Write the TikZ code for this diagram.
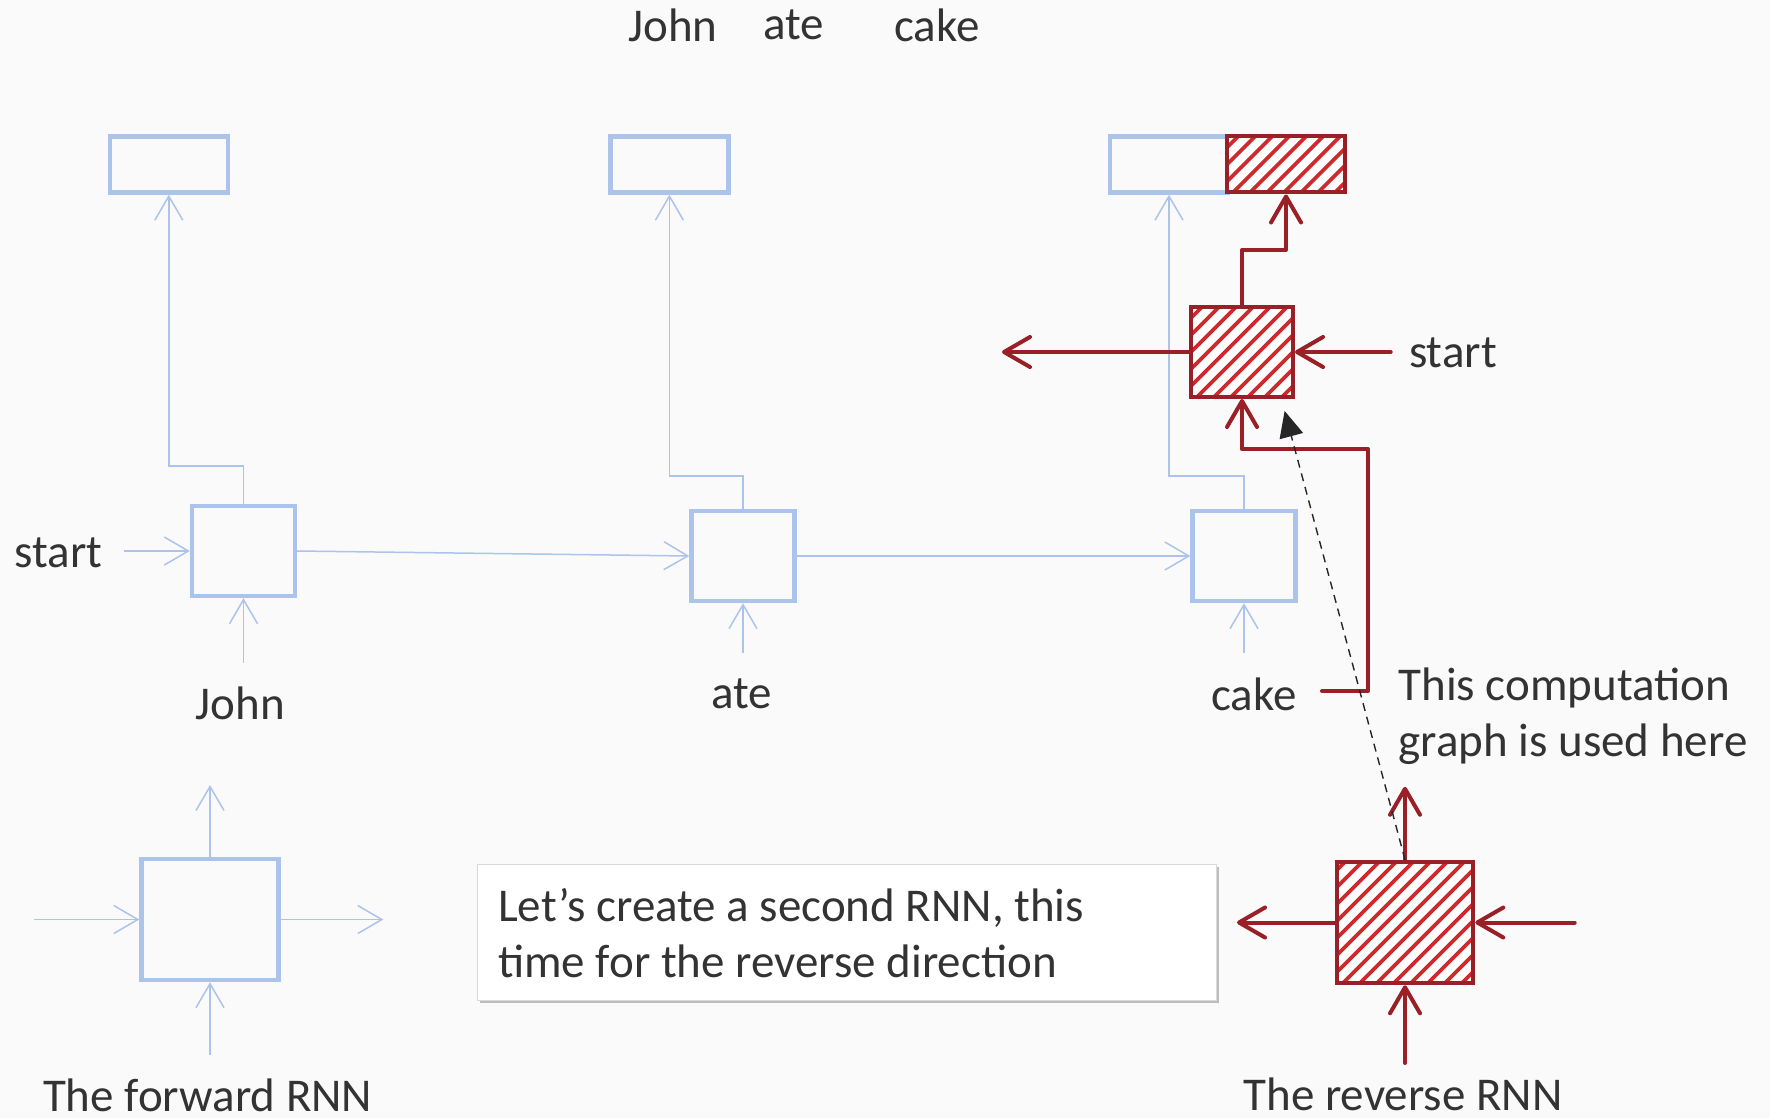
\documentclass[tikz,border=0pt]{standalone}
\usepackage{fontspec}
\setmainfont{Carlito}
\usetikzlibrary{arrows.meta,shadows}
\definecolor{bl}{RGB}{172,196,236}
\definecolor{rd}{RGB}{152,32,38}
\definecolor{hr}{RGB}{206,42,46}
\definecolor{txt}{RGB}{51,51,51}
\definecolor{bg}{RGB}{250,250,250}
\begin{document}
\begin{tikzpicture}[x=0.5pt,y=-0.5pt,
  every node/.style={font=\fontsize{23.5}{27.8}\selectfont, text=txt},
  bluebox/.style={draw=bl, line width=2.2pt, inner sep=0pt},
  hatchbox/.style={draw=rd, line width=2pt, inner sep=0pt, fill=white,
    path picture={\foreach \i in {-300,-283,...,300}
      \draw[hr, line width=1.8pt] ([xshift=\i*0.5pt]path picture bounding box.south west) -- ++(320,-320);}},
  barrow/.style={draw=bl, line width=0.75pt, -{Straight Barb[length=12pt,width=14pt]}},
  rarrow/.style={draw=rd, line width=2pt, line cap=round, line join=round,
    -{Straight Barb[length=13pt,width=15pt,round]}}]
\fill[bg] (0,0) rectangle (1770,1118);
\useasboundingbox (0,0) rectangle (1770,1118);

% top words
\node (wJ) at (673,25) {John};
\node (wA) at (793.5,25) {ate};
\node (wC) at (937,25) {cake};

% output boxes
\node[bluebox, minimum width=59pt, minimum height=28pt] (o1) at (168.8,164.5) {};
\node[bluebox, minimum width=59pt, minimum height=28pt] (o2) at (669.4,164.5) {};
\node[bluebox, minimum width=59pt, minimum height=28pt] (o3) at (1169,164.5) {};

% forward cells
\node[bluebox, minimum width=51.5pt, minimum height=45pt] (c1) at (243.5,551) {};
\node[bluebox, minimum width=51.5pt, minimum height=45pt] (c2) at (743,556) {};
\node[bluebox, minimum width=51.5pt, minimum height=45pt] (c3) at (1244,556) {};

% labels
\node (lstart) at (58.7,553) {start};
\node (lJ) at (240.4,703) {John};
\node (lA) at (741.6,694) {ate};
\node (lC) at (1254,694) {cake};

% blue connectors
\coordinate (k1) at (168.8,466);
\coordinate (k2) at (669.4,476);
\coordinate (k3) at (1169,476);
\draw[barrow] (c1.north) |- (k1) -- (o1.south);
\draw[barrow] (c2.north) |- (k2) -- (o2.south);
\draw[barrow] (c3.north) |- (k3) -- (o3.south);
\coordinate (s1) at (124,551);
\draw[barrow] (s1) -- (c1.west);
\draw[barrow] (c1.east) -- (c2.west);
\draw[barrow] (c2.east) -- (c3.west);
\coordinate (i1) at (243.5,662.6);
\coordinate (i2) at (743,652.5);
\coordinate (i3) at (1244,652.5);
\draw[barrow] (i1) -- (c1.south);
\draw[barrow] (i2) -- (c2.south);
\draw[barrow] (i3) -- (c3.south);

% red output and red cell
\node[hatchbox, minimum width=59pt, minimum height=28pt] (o3r) at (1286,164.5) {};
\node[hatchbox, minimum width=51pt, minimum height=45pt] (r) at (1242,352) {};
\coordinate (rk) at (1286,250);
\draw[rarrow] (r.north) |- (rk) -- (o3r.south);
\coordinate (rl) at (1002,352);
\draw[rarrow] (r.west) -- (rl);
\coordinate (rs) at (1390.7,352);
\draw[rarrow] (rs) -- (r.east);
\node[anchor=west] (rstart) at (1402,353) {start};
\coordinate (ck) at (1322,691);
\coordinate (kc) at (1368,449.3);
\draw[rarrow] (ck) -| (kc) -| (r.south);

\node[anchor=west, align=left] (note) at (1391.5,716) {This computation\\graph is used here};

% forward RNN legend
\node[bluebox, minimum width=68.5pt, minimum height=60.5pt] (fw) at (210,919.5) {};
\coordinate (fu) at (210,785);
\coordinate (fl) at (34,919.5);
\coordinate (fr) at (383.3,919.5);
\coordinate (fb) at (210,1055);
\draw[barrow] (fw.north) -- (fu);
\draw[barrow] (fl) -- (fw.west);
\draw[barrow] (fw.east) -- (fr);
\draw[barrow] (fb) -- (fw.south);
\node[anchor=base] (lfw) at (207.7,1111.7) {The forward RNN};

% callout
\node[draw=black!15, line width=0.6pt, fill=white, minimum width=369.5pt,
  minimum height=67.7pt,
  drop shadow={shadow xshift=1.2pt, shadow yshift=-1.2pt, opacity=0.35, fill=black!70}]
  (call) at (847,932.4) {};
\node[anchor=west, align=left, inner xsep=0pt] (callt) at (497.8,933)
  {Let’s create a second RNN, this\\time for the reverse direction};

% reverse RNN legend
\node[hatchbox, minimum width=68.3pt, minimum height=60.8pt] (rv) at (1405,922.5) {};
\coordinate (ru) at (1405,786.8);
\coordinate (rlft) at (1237,922.5);
\coordinate (rrt) at (1574.7,922.5);
\coordinate (rb) at (1405,1063);
\draw[rarrow] (rv.north) -- (ru);
\draw[rarrow] (rv.west) -- (rlft);
\draw[rarrow] (rrt) -- (rv.east);
\draw[rarrow] (rb) -- (rv.south);
\node[anchor=base] (lrv) at (1403,1110) {The reverse RNN};

% dashed pointer
\coordinate (dt) at (1284.6,411);
\draw[black!85, line width=0.7pt, dash pattern=on 4pt off 3pt,
  -{Triangle[length=13pt,width=12pt]}] (rv.north) -- (dt);
\end{tikzpicture}
\end{document}
